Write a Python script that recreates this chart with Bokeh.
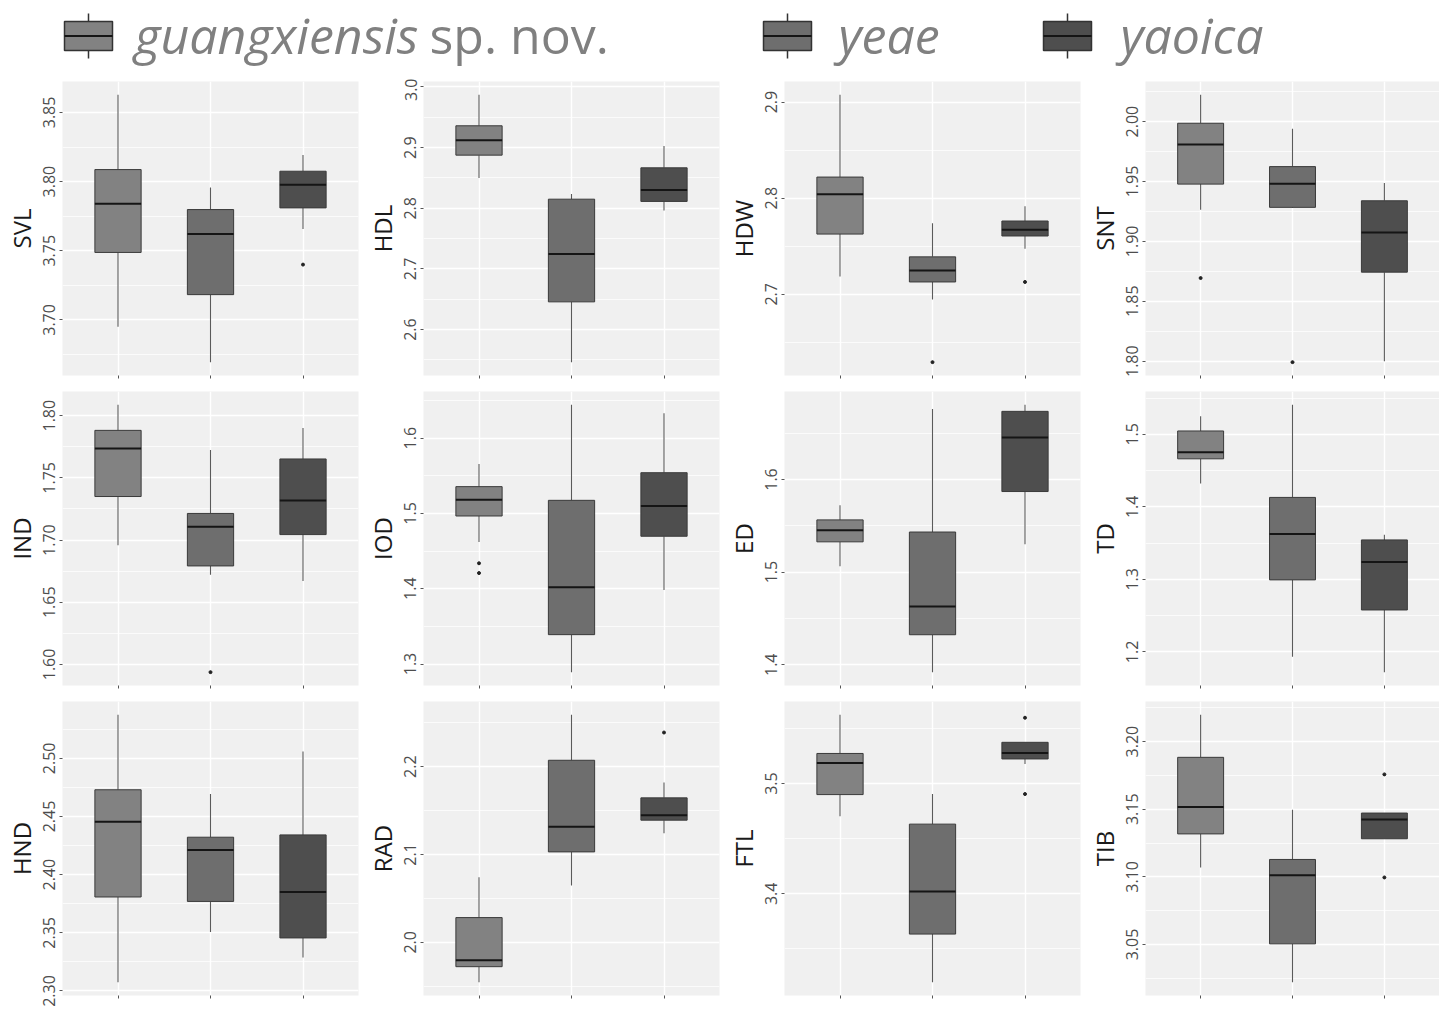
from bokeh.plotting import figure
from bokeh.layouts import column, gridplot
from bokeh.models import FixedTicker, Range1d, PrintfTickFormatter
from bokeh.embed import file_html
from bokeh.resources import INLINE
from bokeh.core.properties import value

# ---------------- data ----------------
species = ["guangxiensis", "yeae", "yaoica"]
species_suffix = [" sp. nov.", "", ""]
group_pos = [1, 2, 3]
box_colors = ["#828282", "#6e6e6e", "#4e4e4e"]

traits = ["SVL", "HDL", "HDW", "SNT", "IND", "IOD", "ED", "TD", "HND", "RAD", "FTL", "TIB"]

whisker_low = [
    [3.695, 3.6695, 3.7657],
    [2.850, 2.5463, 2.7962],
    [2.7186, 2.6946, 2.7475],
    [1.9265, 1.9278, 1.800],
    [1.6958, 1.6722, 1.6671],
    [1.462, 1.2892, 1.3983],
    [1.5063, 1.392, 1.530],
    [1.4323, 1.1934, 1.1721],
    [2.3076, 2.3506, 2.3287],
    [1.9547, 2.0646, 2.1242],
    [3.4703, 3.3199, 3.5178],
    [3.1069, 3.0222, 3.1282],
]
q1 = [
    [3.7488, 3.7183, 3.781],
    [2.8876, 2.6457, 2.8113],
    [2.7627, 2.7129, 2.7607],
    [1.9478, 1.9284, 1.8743],
    [1.735, 1.6792, 1.7044],
    [1.4966, 1.339, 1.4697],
    [1.5327, 1.4324, 1.587],
    [1.4662, 1.2993, 1.2578],
    [2.3808, 2.377, 2.3456],
    [1.9723, 2.103, 2.1391],
    [3.490, 3.3635, 3.5223],
    [3.1318, 3.0505, 3.1282],
]
median = [
    [3.784, 3.7622, 3.7977],
    [2.912, 2.7247, 2.830],
    [2.804, 2.7247, 2.7671],
    [1.9809, 1.9482, 1.9074],
    [1.7736, 1.7107, 1.7319],
    [1.5182, 1.4018, 1.510],
    [1.5451, 1.463, 1.6454],
    [1.4752, 1.3625, 1.3241],
    [2.4454, 2.4213, 2.385],
    [1.9797, 2.1316, 2.1447],
    [3.5187, 3.402, 3.5276],
    [3.1516, 3.1013, 3.1424],
]
q3 = [
    [3.8087, 3.7798, 3.8075],
    [2.936, 2.815, 2.8667],
    [2.822, 2.739, 2.7763],
    [1.9986, 1.9624, 1.9339],
    [1.7882, 1.7214, 1.7652],
    [1.5356, 1.5174, 1.5541],
    [1.5564, 1.5433, 1.6736],
    [1.5046, 1.413, 1.3544],
    [2.473, 2.4322, 2.4342],
    [2.0282, 2.2073, 2.1645],
    [3.5273, 3.4632, 3.5374],
    [3.1884, 3.1129, 3.1472],
]
whisker_high = [
    [3.8627, 3.7958, 3.8192],
    [2.987, 2.8237, 2.9027],
    [2.9075, 2.774, 2.7916],
    [2.0223, 1.994, 1.9488],
    [1.8087, 1.7725, 1.790],
    [1.5658, 1.6442, 1.633],
    [1.5722, 1.676, 1.6806],
    [1.5249, 1.5406, 1.3616],
    [2.5374, 2.4694, 2.5059],
    [2.074, 2.259, 2.1819],
    [3.5623, 3.4905, 3.5374],
    [3.2198, 3.1497, 3.1472],
]
outlier_trait = ["SVL", "HDW", "HDW", "SNT", "SNT", "IND", "IOD", "IOD", "RAD", "FTL", "FTL", "TIB", "TIB"]
outlier_group = [3, 2, 3, 1, 2, 2, 1, 1, 3, 3, 3, 3, 3]
outlier_value = [3.740, 2.6295, 2.7129, 1.8694, 1.7992, 1.5938, 1.4338, 1.4208, 2.2389, 3.5597, 3.4905, 3.1758, 3.0996]

y_ticks = [
    [3.70, 3.75, 3.80, 3.85],
    [2.6, 2.7, 2.8, 2.9, 3.0],
    [2.7, 2.8, 2.9],
    [1.80, 1.85, 1.90, 1.95, 2.00],
    [1.60, 1.65, 1.70, 1.75, 1.80],
    [1.3, 1.4, 1.5, 1.6],
    [1.4, 1.5, 1.6],
    [1.2, 1.3, 1.4, 1.5],
    [2.30, 2.35, 2.40, 2.45, 2.50],
    [2.0, 2.1, 2.2],
    [3.4, 3.5],
    [3.05, 3.10, 3.15, 3.20],
]
tick_formats = ["%.2f", "%.1f", "%.1f", "%.2f", "%.2f", "%.1f", "%.1f", "%.1f", "%.2f", "%.1f", "%.1f", "%.2f"]

# ---------------- styling ----------------
FONT = "Open Sans"
PANEL_BG = "#f0f0f0"
BOX_LINE = "#3a3a3a"
WHISKER = "#5a5a5a"
COL_W = [361, 361, 361, 356]
COL_RIGHT = [3, 3, 3, 0]
ROW_H = 310
BOX_W = 0.5


def make_panel(i):
    name = traits[i]
    ox = [g for t, g in zip(outlier_trait, outlier_group) if t == name]
    oy = [v for t, v in zip(outlier_trait, outlier_value) if t == name]
    lo_all = min(whisker_low[i] + oy)
    hi_all = max(whisker_high[i] + oy)
    pad = 0.05 * (hi_all - lo_all)

    p = figure(width=COL_W[i % 4], height=ROW_H, output_backend="svg", toolbar_location=None,
               x_range=Range1d(0.4, 3.6), y_range=Range1d(lo_all - pad, hi_all + pad),
               min_border_left=62, min_border_right=COL_RIGHT[i % 4], min_border_top=3, min_border_bottom=13)
    p.background_fill_color = PANEL_BG
    p.border_fill_color = "white"
    p.outline_line_color = None

    ticks = y_ticks[i]
    step = ticks[1] - ticks[0]
    minor = [t - step / 2 for t in ticks] + [ticks[-1] + step / 2]
    p.yaxis.ticker = FixedTicker(ticks=ticks, minor_ticks=minor)
    p.yaxis.formatter = PrintfTickFormatter(format=tick_formats[i])
    p.xaxis.ticker = FixedTicker(ticks=group_pos, minor_ticks=[])

    p.ygrid.grid_line_color = "white"
    p.ygrid.grid_line_width = 1.4
    p.ygrid.minor_grid_line_color = "white"
    p.ygrid.minor_grid_line_width = 0.7
    p.xgrid.grid_line_color = "white"
    p.xgrid.grid_line_width = 1.4

    for ax in (p.xaxis[0], p.yaxis[0]):
        ax.axis_line_color = None
        ax.major_tick_line_color = "#555555"
        ax.major_tick_out = 3
        ax.major_tick_in = 0
        ax.minor_tick_line_color = None
    p.xaxis.major_label_overrides = {g: "" for g in group_pos}
    p.xaxis.major_label_text_font_size = "8px"
    p.xaxis.major_label_standoff = 0

    p.yaxis.axis_label = name
    p.yaxis.axis_label_text_font = FONT
    p.yaxis.axis_label_text_font_size = "24px"
    p.yaxis.axis_label_text_font_style = "normal"
    p.yaxis.axis_label_text_color = "#1a1a1a"
    p.yaxis.axis_label_standoff = 3
    p.yaxis.major_label_orientation = "vertical"
    p.yaxis.major_label_text_font = FONT
    p.yaxis.major_label_text_font_size = "16px"
    p.yaxis.major_label_text_color = "#4d4d4d"
    p.yaxis.major_label_standoff = 3

    # whiskers
    p.segment(x0=group_pos, x1=group_pos, y0=whisker_low[i], y1=q1[i], line_color=WHISKER, line_width=1.1)
    p.segment(x0=group_pos, x1=group_pos, y0=q3[i], y1=whisker_high[i], line_color=WHISKER, line_width=1.1)
    # boxes
    p.vbar(x=group_pos, width=BOX_W, bottom=q1[i], top=q3[i], fill_color=box_colors,
           line_color=BOX_LINE, line_width=1)
    # medians
    p.segment(x0=[g - BOX_W / 2 for g in group_pos], x1=[g + BOX_W / 2 for g in group_pos],
              y0=median[i], y1=median[i], line_color="#151515", line_width=2)
    if ox:
        p.scatter(x=ox, y=oy, size=3, color="#222222")
    return p


panels = [make_panel(i) for i in range(len(traits))]
grid = gridplot(panels, ncols=4, toolbar_location=None)

# ---------------- legend ----------------
LW, LH = sum(COL_W), 78
leg = figure(width=LW, height=LH, output_backend="svg", toolbar_location=None,
             x_range=Range1d(0, LW), y_range=Range1d(LH, 0),
             min_border=0, min_border_left=0, min_border_right=0, min_border_top=0, min_border_bottom=0)
leg.axis.visible = False
leg.grid.visible = False
leg.outline_line_color = None
leg.background_fill_color = "white"

icon_cx = [88, 787, 1067]
text_x = [134, 838, 1120]
suffix_x = [429, 0, 0]
icon_w, box_top, box_bot, wh_top, wh_bot, mid_y = 48, 21, 50, 13, 58, 35.5
text_y = 34

leg.segment(x0=icon_cx, x1=icon_cx, y0=[wh_top] * 3, y1=[wh_bot] * 3, line_color="#333333", line_width=1.5)
leg.quad(left=[c - icon_w / 2 for c in icon_cx], right=[c + icon_w / 2 for c in icon_cx],
         top=[box_top] * 3, bottom=[box_bot] * 3, fill_color=box_colors, line_color="#333333", line_width=1.5)
leg.segment(x0=[c - icon_w / 2 for c in icon_cx], x1=[c + icon_w / 2 for c in icon_cx],
            y0=[mid_y] * 3, y1=[mid_y] * 3, line_color="#151515", line_width=2)
leg.text(x=text_x, y=[text_y] * 3, text=species, text_font=value(FONT), text_font_style="italic",
         text_font_size="50px", text_color="#808080", text_baseline="middle", text_align="left")
sx = [s for s, suf in zip(suffix_x, species_suffix) if suf]
st = [suf.strip() for suf in species_suffix if suf]
leg.text(x=sx, y=[text_y] * len(sx), text=st, text_font=value(FONT), text_font_style="normal",
         text_font_size="50px", text_color="#808080", text_baseline="middle", text_align="left")

layout = column(leg, grid)
open("out.html", "w").write(file_html(layout, INLINE))
